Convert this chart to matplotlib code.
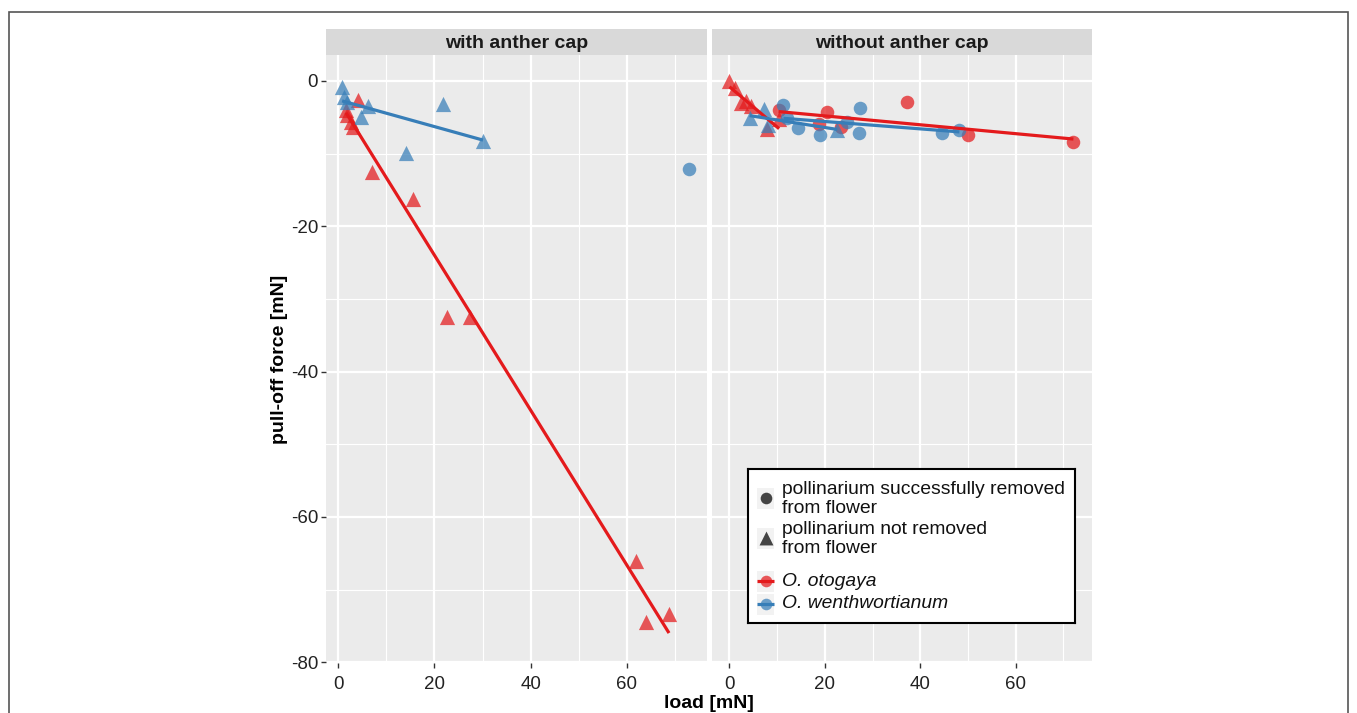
import numpy as np
import matplotlib
matplotlib.use("Agg")
import matplotlib.pyplot as plt
from matplotlib.patches import Rectangle

plt.rcParams['font.family'] = ['Liberation Sans', 'DejaVu Sans']
plt.rcParams['axes.unicode_minus'] = False

# ---- data (load [mN], pull-off force [mN]) ----
# with anther cap
wc_oto_tri_x = [4.0, 1.6, 1.9, 2.7, 3.0, 7.1, 15.5, 22.6, 27.4, 61.9, 64.0, 68.8]
wc_oto_tri_y = [-2.6, -4.0, -4.7, -5.6, -6.3, -12.5, -16.2, -32.5, -32.5, -66.1, -74.5, -73.4]
wc_wen_tri_x = [0.8, 1.25, 1.9, 6.1, 4.8, 21.7, 30.1, 14.0]
wc_wen_tri_y = [-0.8, -2.2, -2.85, -3.4, -5.0, -3.2, -8.3, -9.9]
wc_wen_cir_x = [72.9]
wc_wen_cir_y = [-12.1]

# without anther cap
nc_oto_tri_x = [0.0, 1.2, 2.4, 3.4, 4.5, 7.8, 10.4]
nc_oto_tri_y = [0.0, -1.0, -3.0, -2.8, -3.5, -6.6, -5.2]
nc_oto_cir_x = [10.3, 18.7, 20.4, 23.3, 37.3, 50.0, 72.1]
nc_oto_cir_y = [-4.0, -5.9, -4.3, -6.3, -2.9, -7.5, -8.4]
nc_wen_tri_x = [4.2, 7.3, 8.0, 22.6]
nc_wen_tri_y = [-5.1, -3.8, -6.1, -6.7]
nc_wen_cir_x = [11.3, 12.0, 14.3, 19.0, 24.7, 27.4, 27.2, 44.5, 48.2]
nc_wen_cir_y = [-3.3, -5.1, -6.5, -7.4, -5.6, -3.7, -7.2, -7.1, -6.8]

facets = ['with anther cap', 'without anther cap']
RED = '#E41A1C'
BLUE = '#377EB8'

W, H = 1357, 713
fig = plt.figure(figsize=(W / 100, H / 100), dpi=100)


def box(x0, y0, x1, y1):
    # pixel box -> figure fraction rect
    return [x0 / W, 1 - y1 / H, (x1 - x0) / W, (y1 - y0) / H]


# outer frame
fig.patches.append(Rectangle((9 / W, -0.05), (1348 - 9) / W, 1.05 - 12.3 / H,
                             transform=fig.transFigure, fill=False,
                             edgecolor='#555555', lw=1.2))

panels = [
    dict(rect=box(325.7, 55, 706.7, 663), xlim=(-2.62, 76.64),
         groups=[(wc_oto_tri_x, wc_oto_tri_y, RED, '^'),
                 (wc_wen_tri_x, wc_wen_tri_y, BLUE, '^'),
                 (wc_wen_cir_x, wc_wen_cir_y, BLUE, 'o')]),
    dict(rect=box(711.7, 55, 1092, 663), xlim=(-3.73, 76.0),
         groups=[(nc_oto_tri_x, nc_oto_tri_y, RED, '^'),
                 (nc_oto_cir_x, nc_oto_cir_y, RED, 'o'),
                 (nc_wen_tri_x, nc_wen_tri_y, BLUE, '^'),
                 (nc_wen_cir_x, nc_wen_cir_y, BLUE, 'o')]),
]
strips = [box(325.7, 29, 706.7, 55), box(711.7, 29, 1092, 55)]

axes = []
for i, p in enumerate(panels):
    ax = fig.add_axes(p['rect'])
    ax.set_facecolor('#EBEBEB')
    for s in ax.spines.values():
        s.set_visible(False)
    ax.set_xlim(*p['xlim'])
    ax.set_ylim(-80.1, 3.57)
    ax.set_xticks([0, 20, 40, 60])
    ax.set_xticks([10, 30, 50, 70], minor=True)
    ax.set_yticks([0, -20, -40, -60, -80])
    ax.set_yticks([-10, -30, -50, -70], minor=True)
    ax.grid(which='major', color='white', lw=1.6)
    ax.grid(which='minor', color='white', lw=0.8)
    ax.set_axisbelow(True)
    ax.tick_params(which='major', length=3.5, width=1, color='#333333',
                   labelsize=13.5, labelcolor='#222222', pad=2)
    ax.tick_params(axis='x', which='major', pad=6)
    ax.tick_params(which='minor', length=0)
    if i == 1:
        ax.tick_params(axis='y', which='both', left=False, labelleft=False)

    for gx, gy, col, mk in p['groups']:
        ax.scatter(gx, gy, s=120 if mk == '^' else 95, marker=mk, color=col,
                   alpha=0.72, linewidths=0, zorder=3)
    for gx, gy, col, mk in p['groups']:
        if len(gx) > 1:
            k, b = np.polyfit(gx, gy, 1)
            xs = np.array([min(gx), max(gx)])
            ax.plot(xs, k * xs + b, color=col, lw=2.3, zorder=4,
                    solid_capstyle='butt')
    axes.append(ax)

    sa = fig.add_axes(strips[i])
    sa.set_facecolor('#D9D9D9')
    sa.set_xticks([])
    sa.set_yticks([])
    for s in sa.spines.values():
        s.set_visible(False)
    sa.text(0.5, 0.45, facets[i], ha='center', va='center', fontsize=14,
            fontweight='bold', color='#1A1A1A', transform=sa.transAxes)

fig.text(709 / W, 1 - 703 / H, 'load [mN]', ha='center', va='center',
         fontsize=14, fontweight='bold')
fig.text(280 / W, 1 - 359 / H, 'pull-off force [mN]', ha='center',
         va='center', rotation=90, fontsize=14, fontweight='bold')

# ---- legend drawn in pixel units ----
lg = fig.add_axes(box(748.3, 469.3, 1075, 623))
lg.set_xlim(748.3, 1075)
lg.set_ylim(623, 469.3)
lg.set_xticks([])
lg.set_yticks([])
lg.set_facecolor('white')
for s in lg.spines.values():
    s.set_color('black')
    s.set_linewidth(1.5)

key_bg = '#F2F2F2'
entries = [
    ('o', '#444444', None, 498, ['pollinarium successfully removed', 'from flower'], [489.5, 508.5], 'normal'),
    ('^', '#444444', None, 538, ['pollinarium not removed', 'from flower'], [529.5, 548.5], 'normal'),
    ('o', RED, RED, 581, ['O. otogaya'], [581], 'italic'),
    ('o', BLUE, BLUE, 604, ['O. wenthwortianum'], [604], 'italic'),
]
for mk, col, lcol, ky, lines, ty, style in entries:
    lg.add_patch(Rectangle((757, ky - 10.5), 17, 21, color=key_bg, lw=0))
    if lcol is not None:
        lg.plot([757, 774], [ky, ky], color=lcol, lw=2.3, solid_capstyle='butt')
        lg.scatter([765.5], [ky], s=70, marker=mk, color=col, alpha=0.72, lw=0, zorder=3)
    else:
        lg.scatter([765.5], [ky], s=70 if mk == 'o' else 100, marker=mk,
                   color=col, lw=0, zorder=3)
    for t, y in zip(lines, ty):
        lg.text(782, y, t, ha='left', va='center', fontsize=13.9,
                style=style, color='#111111')

fig.savefig('out.png', dpi=100)
